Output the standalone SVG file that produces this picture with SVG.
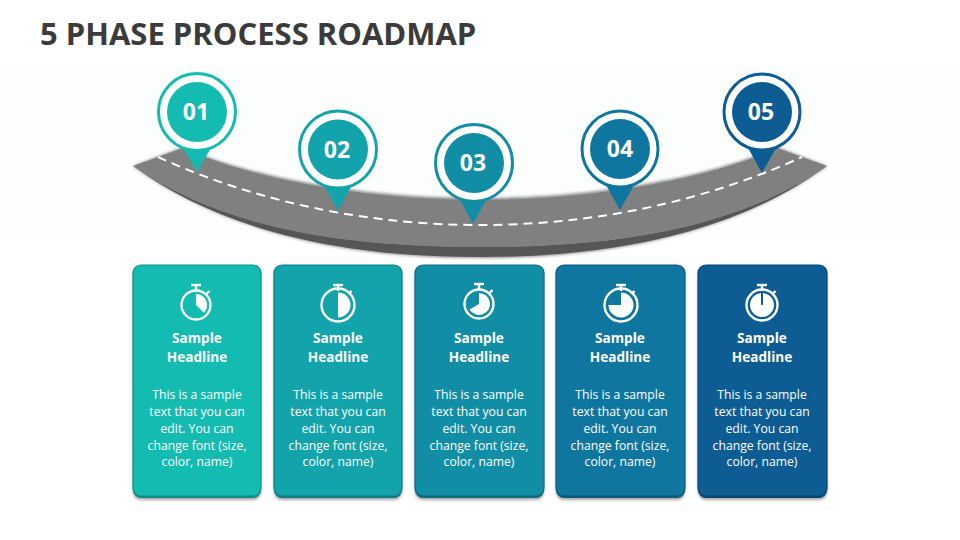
<svg xmlns="http://www.w3.org/2000/svg" width="960" height="540" viewBox="0 0 960 540">
<defs>
<filter id="soft" x="-10%" y="-30%" width="120%" height="160%"><feGaussianBlur stdDeviation="1.6"/></filter>
<filter id="cardShadow" x="-10%" y="-5%" width="120%" height="110%"><feGaussianBlur stdDeviation="1.8"/></filter>
<g id="stopwatch">
<path class="ic" d="M0 -14V-19"/>
<path class="ic" d="M-5 -20H5" stroke-width="2.6"/>
<path class="ic" d="M10.500 -11L13.500 -14" stroke-width="2"/>
</g>
</defs>
<style>
text{font-family:"Open Sans","Noto Sans","Liberation Sans",sans-serif;fill:#fff;text-anchor:middle}
.title{font-size:31px;font-weight:700;fill:#3b3b3b;text-anchor:start}
.num{font-size:23px;font-weight:700}
.hd{font-size:13.600px;font-weight:700}
.bd{font-size:12.200px}
.ic{fill:none;stroke:#fff;stroke-width:2.400}
.w{fill:#fff}
.ring{fill:#fff;stroke-width:3}
.shadow{fill:#000;opacity:.35}
</style>
<rect width="960" height="540" fill="#fff"/>
<rect x="0" y="67" width="960" height="173" fill="#fcfefe"/>
<text class="title" x="40" y="45">5 PHASE PROCESS ROADMAP</text>

<g id="connectors">
<path d="M133 166L183 147C230 169 340 198 480 198C620 198 730 169 777 147L827 166C750 222 640 258 480 258C320 258 210 222 133 166Z" fill="#333" opacity=".55" filter="url(#soft)"/>
<path id="road-edge" d="M133 166C210 222 320 257 480 257C640 257 750 222 827 166C750 218 650 247 480 247C310 247 210 218 133 166Z" fill="#565656"/>
<path id="road" d="M133 166L183 148C230 170 340 200 480 200C620 200 730 170 777 148L827 166C750 218 650 247 480 247C310 247 210 218 133 166Z" fill="#808080"/>
<path id="lane" d="M158 157C230 190 340 225 480 225C620 225 730 190 802 157" fill="none" stroke="#fff" stroke-width="2" stroke-dasharray="9 6"/>
</g>

<g id="pin-1"><path d="M183 148L197 172L211 148Z" fill="#14BBB0"/><circle class="ring" cx="197" cy="112" r="38.500" stroke="#14BBB0"/><circle cx="197" cy="112" r="30" fill="#14BBB0"/><text class="num" x="196" y="120">01</text></g>
<g id="pin-2"><path d="M324 185L338 211L352 185Z" fill="#12A3AB"/><circle class="ring" cx="338" cy="149.500" r="38.500" stroke="#12A3AB"/><circle cx="338" cy="149.500" r="30" fill="#12A3AB"/><text class="num" x="337" y="157.500">02</text></g>
<g id="pin-3"><path d="M459 198L473 224L487 198Z" fill="#128DA6"/><circle class="ring" cx="474" cy="163" r="38.500" stroke="#128DA6"/><circle cx="474" cy="163" r="30" fill="#128DA6"/><text class="num" x="473" y="171">03</text></g>
<g id="pin-4"><path d="M606 185L620 210L634 185Z" fill="#0F769F"/><circle class="ring" cx="620" cy="149" r="38" stroke="#0F769F"/><circle cx="620" cy="149" r="30" fill="#0F769F"/><text class="num" x="620" y="156.500">04</text></g>
<g id="pin-5"><path d="M748 148L762 173L776 148Z" fill="#0D5C94"/><circle class="ring" cx="762" cy="112" r="38" stroke="#0D5C94"/><circle cx="762" cy="112" r="30" fill="#0D5C94"/><text class="num" x="761" y="120">05</text></g>

<g id="card-1"><rect class="shadow" x="133" y="268" width="128" height="232" rx="8" filter="url(#cardShadow)"/><rect x="133" y="266" width="128" height="232" rx="8" fill="#0f8f88"/><rect x="133" y="265" width="128" height="231" rx="8" fill="#14BBB0" stroke="#0f8f88" stroke-width="1.200"/>
<g transform="translate(196 305)"><use href="#stopwatch"/><circle class="ic" r="14.500"/><path class="w" d="M0 -11A11 11 0 0 1 7.800 7.800L0 0Z"/></g>
<text class="hd" x="197" y="343">Sample</text><text class="hd" x="197" y="362">Headline</text>
<text class="bd" x="197" y="399">This is a sample</text><text class="bd" x="197" y="416">text that you can</text><text class="bd" x="197" y="433">edit. You can</text><text class="bd" x="197" y="450">change font (size,</text><text class="bd" x="197" y="466">color, name)</text></g>

<g id="card-2"><rect class="shadow" x="274" y="268" width="128" height="232" rx="8" filter="url(#cardShadow)"/><rect x="274" y="266" width="128" height="232" rx="8" fill="#0d7d83"/><rect x="274" y="265" width="128" height="231" rx="8" fill="#12A3AB" stroke="#0d7d83" stroke-width="1.200"/>
<g transform="translate(338 305)"><use href="#stopwatch"/><circle class="ic" r="16.500"/><path class="w" d="M0 -12.500A12.500 12.500 0 0 1 0 12.500Z"/></g>
<text class="hd" x="338" y="343">Sample</text><text class="hd" x="338" y="362">Headline</text>
<text class="bd" x="338" y="399">This is a sample</text><text class="bd" x="338" y="416">text that you can</text><text class="bd" x="338" y="433">edit. You can</text><text class="bd" x="338" y="450">change font (size,</text><text class="bd" x="338" y="466">color, name)</text></g>

<g id="card-3"><rect class="shadow" x="415" y="268" width="129" height="232" rx="8" filter="url(#cardShadow)"/><rect x="415" y="266" width="129" height="232" rx="8" fill="#0d6b7e"/><rect x="415" y="265" width="129" height="231" rx="8" fill="#128DA6" stroke="#0d6b7e" stroke-width="1.200"/>
<g transform="translate(479 304)"><use href="#stopwatch"/><circle class="ic" r="14.500"/><path class="w" d="M0 -11A11 11 0 1 1 -9.500 5.500L0 0Z"/></g>
<text class="hd" x="479" y="343">Sample</text><text class="hd" x="479" y="362">Headline</text>
<text class="bd" x="479" y="399">This is a sample</text><text class="bd" x="479" y="416">text that you can</text><text class="bd" x="479" y="433">edit. You can</text><text class="bd" x="479" y="450">change font (size,</text><text class="bd" x="479" y="466">color, name)</text></g>

<g id="card-4"><rect class="shadow" x="556" y="268" width="129" height="232" rx="8" filter="url(#cardShadow)"/><rect x="556" y="266" width="129" height="232" rx="8" fill="#0b5a79"/><rect x="556" y="265" width="129" height="231" rx="8" fill="#0F769F" stroke="#0b5a79" stroke-width="1.200"/>
<g transform="translate(621 305)"><use href="#stopwatch"/><circle class="ic" r="16.500"/><path class="w" d="M0 -12.500A12.500 12.500 0 1 1 -12.500 0H0Z"/></g>
<text class="hd" x="620" y="343">Sample</text><text class="hd" x="620" y="362">Headline</text>
<text class="bd" x="620" y="399">This is a sample</text><text class="bd" x="620" y="416">text that you can</text><text class="bd" x="620" y="433">edit. You can</text><text class="bd" x="620" y="450">change font (size,</text><text class="bd" x="620" y="466">color, name)</text></g>

<g id="card-5"><rect class="shadow" x="698" y="268" width="129" height="232" rx="8" filter="url(#cardShadow)"/><rect x="698" y="266" width="129" height="232" rx="8" fill="#0a4671"/><rect x="698" y="265" width="129" height="231" rx="8" fill="#0D5C94" stroke="#0a4671" stroke-width="1.200"/>
<g transform="translate(762 305)"><use href="#stopwatch"/><circle class="ic" r="15.500"/><path class="w" d="M1 -12A12 12 0 1 1 -1 -12V0H1Z"/></g>
<text class="hd" x="762" y="343">Sample</text><text class="hd" x="762" y="362">Headline</text>
<text class="bd" x="762" y="399">This is a sample</text><text class="bd" x="762" y="416">text that you can</text><text class="bd" x="762" y="433">edit. You can</text><text class="bd" x="762" y="450">change font (size,</text><text class="bd" x="762" y="466">color, name)</text></g>
</svg>
